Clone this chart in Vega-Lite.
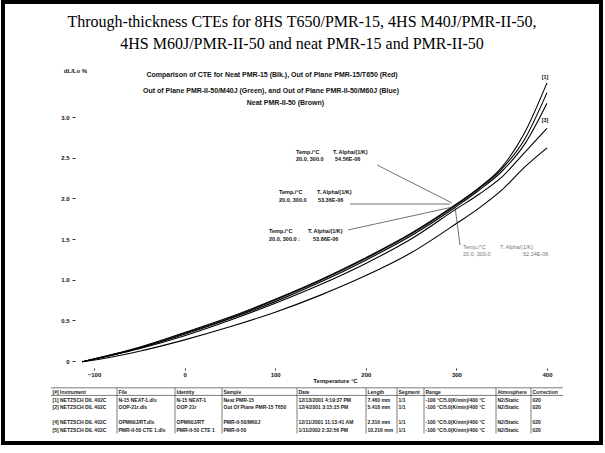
{
  "$schema": "https://vega.github.io/schema/vega-lite/v6.json",
  "width": 598,
  "height": 441,
  "autosize": {"type": "none"},
  "padding": {"left": 3, "top": 2, "right": 4, "bottom": 10},
  "background": "white",
  "title": {
    "text": ["Through-thickness CTEs for 8HS T650/PMR-15, 4HS M40J/PMR-II-50,", "4HS M60J/PMR-II-50 and neat PMR-15 and PMR-II-50"],
    "font": "Liberation Serif",
    "fontSize": 16,
    "fontWeight": "normal",
    "lineHeight": 22,
    "color": "black",
    "anchor": "middle",
    "offset": -50
  },
  "config": {
    "view": {"stroke": "black", "strokeWidth": 4},
    "font": "Liberation Sans",
    "text": {"font": "Liberation Sans"}
  },
  "datasets": {
    "curves": [
      {"series": "[1] Neat PMR-15", "t": -113, "v": -0.01}, {"series": "[1] Neat PMR-15", "t": -80, "v": 0.08}, {"series": "[1] Neat PMR-15", "t": -50, "v": 0.17}, {"series": "[1] Neat PMR-15", "t": 0, "v": 0.35}, {"series": "[1] Neat PMR-15", "t": 50, "v": 0.54}, {"series": "[1] Neat PMR-15", "t": 100, "v": 0.76}, {"series": "[1] Neat PMR-15", "t": 150, "v": 1.0}, {"series": "[1] Neat PMR-15", "t": 200, "v": 1.27}, {"series": "[1] Neat PMR-15", "t": 250, "v": 1.57}, {"series": "[1] Neat PMR-15", "t": 300, "v": 1.93}, {"series": "[1] Neat PMR-15", "t": 325, "v": 2.13}, {"series": "[1] Neat PMR-15", "t": 350, "v": 2.38}, {"series": "[1] Neat PMR-15", "t": 375, "v": 2.8}, {"series": "[1] Neat PMR-15", "t": 400, "v": 3.42},
      {"series": "[2] PMR-15/T650", "t": -113, "v": -0.01}, {"series": "[2] PMR-15/T650", "t": -80, "v": 0.08}, {"series": "[2] PMR-15/T650", "t": -50, "v": 0.16}, {"series": "[2] PMR-15/T650", "t": 0, "v": 0.34}, {"series": "[2] PMR-15/T650", "t": 50, "v": 0.53}, {"series": "[2] PMR-15/T650", "t": 100, "v": 0.75}, {"series": "[2] PMR-15/T650", "t": 150, "v": 0.99}, {"series": "[2] PMR-15/T650", "t": 200, "v": 1.26}, {"series": "[2] PMR-15/T650", "t": 250, "v": 1.56}, {"series": "[2] PMR-15/T650", "t": 300, "v": 1.92}, {"series": "[2] PMR-15/T650", "t": 325, "v": 2.12}, {"series": "[2] PMR-15/T650", "t": 350, "v": 2.36}, {"series": "[2] PMR-15/T650", "t": 375, "v": 2.72}, {"series": "[2] PMR-15/T650", "t": 400, "v": 3.3},
      {"series": "[4] PMR-II-50/M60J", "t": -113, "v": -0.01}, {"series": "[4] PMR-II-50/M60J", "t": -80, "v": 0.07}, {"series": "[4] PMR-II-50/M60J", "t": -50, "v": 0.16}, {"series": "[4] PMR-II-50/M60J", "t": 0, "v": 0.33}, {"series": "[4] PMR-II-50/M60J", "t": 50, "v": 0.52}, {"series": "[4] PMR-II-50/M60J", "t": 100, "v": 0.73}, {"series": "[4] PMR-II-50/M60J", "t": 150, "v": 0.97}, {"series": "[4] PMR-II-50/M60J", "t": 200, "v": 1.24}, {"series": "[4] PMR-II-50/M60J", "t": 250, "v": 1.54}, {"series": "[4] PMR-II-50/M60J", "t": 300, "v": 1.9}, {"series": "[4] PMR-II-50/M60J", "t": 325, "v": 2.1}, {"series": "[4] PMR-II-50/M60J", "t": 350, "v": 2.33}, {"series": "[4] PMR-II-50/M60J", "t": 375, "v": 2.66}, {"series": "[4] PMR-II-50/M60J", "t": 400, "v": 3.17},
      {"series": "[3] PMR-II-50/M40J", "t": -113, "v": -0.01}, {"series": "[3] PMR-II-50/M40J", "t": -80, "v": 0.07}, {"series": "[3] PMR-II-50/M40J", "t": -50, "v": 0.15}, {"series": "[3] PMR-II-50/M40J", "t": 0, "v": 0.31}, {"series": "[3] PMR-II-50/M40J", "t": 50, "v": 0.5}, {"series": "[3] PMR-II-50/M40J", "t": 100, "v": 0.71}, {"series": "[3] PMR-II-50/M40J", "t": 150, "v": 0.94}, {"series": "[3] PMR-II-50/M40J", "t": 200, "v": 1.2}, {"series": "[3] PMR-II-50/M40J", "t": 250, "v": 1.5}, {"series": "[3] PMR-II-50/M40J", "t": 300, "v": 1.87}, {"series": "[3] PMR-II-50/M40J", "t": 325, "v": 2.05}, {"series": "[3] PMR-II-50/M40J", "t": 350, "v": 2.26}, {"series": "[3] PMR-II-50/M40J", "t": 375, "v": 2.56}, {"series": "[3] PMR-II-50/M40J", "t": 400, "v": 2.86},
      {"series": "[5] Neat PMR-II-50", "t": -113, "v": -0.01}, {"series": "[5] Neat PMR-II-50", "t": -80, "v": 0.05}, {"series": "[5] Neat PMR-II-50", "t": -50, "v": 0.12}, {"series": "[5] Neat PMR-II-50", "t": 0, "v": 0.26}, {"series": "[5] Neat PMR-II-50", "t": 50, "v": 0.42}, {"series": "[5] Neat PMR-II-50", "t": 100, "v": 0.6}, {"series": "[5] Neat PMR-II-50", "t": 150, "v": 0.81}, {"series": "[5] Neat PMR-II-50", "t": 200, "v": 1.05}, {"series": "[5] Neat PMR-II-50", "t": 250, "v": 1.33}, {"series": "[5] Neat PMR-II-50", "t": 300, "v": 1.69}, {"series": "[5] Neat PMR-II-50", "t": 325, "v": 1.88}, {"series": "[5] Neat PMR-II-50", "t": 350, "v": 2.1}, {"series": "[5] Neat PMR-II-50", "t": 375, "v": 2.38}, {"series": "[5] Neat PMR-II-50", "t": 400, "v": 2.62}
    ],
    "header": [
      {"t": 96.5, "v": 3.517, "text": "Comparison of CTE for Neat PMR-15 (Blk.), Out of Plane PMR-15/T650 (Red)"},
      {"t": 95.4, "v": 3.32, "text": "Out of Plane PMR-II-50/M40J (Green), and Out of Plane PMR-II-50/M60J (Blue)"},
      {"t": 111.3, "v": 3.17, "text": "Neat PMR-II-50 (Brown)"}
    ],
    "ann": [
      {"t": 123.0, "v": 2.57, "text": "Temp./°C"}, {"t": 163.8, "v": 2.57, "text": "T. Alpha/(1/K)"},
      {"t": 123.0, "v": 2.484, "text": "20.0, 300.0"}, {"t": 166.0, "v": 2.484, "text": "54.56E-06"},
      {"t": 104.2, "v": 2.078, "text": "Temp./°C"}, {"t": 146.1, "v": 2.078, "text": "T. Alpha/(1/K)"},
      {"t": 104.2, "v": 1.98, "text": "20.0, 300.0"}, {"t": 147.2, "v": 1.98, "text": "53.36E-06"},
      {"t": 93.2, "v": 1.598, "text": "Temp./°C"}, {"t": 136.2, "v": 1.598, "text": "T. Alpha/(1/K)"},
      {"t": 93.2, "v": 1.5, "text": "20.0, 300.0 :"}, {"t": 141.7, "v": 1.5, "text": "53.86E-06"}
    ],
    "ann4": [
      {"t": 307.3, "v": 1.402, "text": "Temp./°C"}, {"t": 348.1, "v": 1.402, "text": "T. Alpha/(1/K)"},
      {"t": 307.3, "v": 1.316, "text": "20.0, 300.0"}, {"t": 373.5, "v": 1.316, "text": "52.24E-06"}
    ],
    "leaders": [
      {"t": 212.4, "v": 2.41, "t2": 295.1, "v2": 1.943},
      {"t": 182.6, "v": 1.93, "t2": 292.9, "v2": 1.93},
      {"t": 180.4, "v": 1.611, "t2": 296.2, "v2": 1.894},
      {"t": 298.5, "v": 1.894, "t2": 304.0, "v2": 1.426}
    ],
    "endlabels": [
      {"t": 397.8, "v": 3.49, "text": "[1]"},
      {"t": 397.8, "v": 2.96, "text": "[3]"}
    ],
    "table": [
      {"row": 0, "col": 0, "text": "[#] Instrument"}, {"row": 0, "col": 1, "text": "File"}, {"row": 0, "col": 2, "text": "Identity"}, {"row": 0, "col": 3, "text": "Sample"}, {"row": 0, "col": 4, "text": "Date"}, {"row": 0, "col": 5, "text": "Length"}, {"row": 0, "col": 6, "text": "Segment"}, {"row": 0, "col": 7, "text": "Range"}, {"row": 0, "col": 8, "text": "Atmosphere"}, {"row": 0, "col": 9, "text": "Correction"},
      {"row": 1, "col": 0, "text": "[1] NETZSCH DIL 402C"}, {"row": 1, "col": 1, "text": "N-15 NEAT-1.dls"}, {"row": 1, "col": 2, "text": "N-15 NEAT-1"}, {"row": 1, "col": 3, "text": "Neat PMR-15"}, {"row": 1, "col": 4, "text": "12/13/2001 4:19:37 PM"}, {"row": 1, "col": 5, "text": "7.460 mm"}, {"row": 1, "col": 6, "text": "1/1"}, {"row": 1, "col": 7, "text": "-100 °C/5.0(K/min)/400 °C"}, {"row": 1, "col": 8, "text": "N2/Static"}, {"row": 1, "col": 9, "text": "020"},
      {"row": 2, "col": 0, "text": "[2] NETZSCH DIL 402C"}, {"row": 2, "col": 1, "text": "OOP-21r.dls"}, {"row": 2, "col": 2, "text": "OOP 21r"}, {"row": 2, "col": 3, "text": "Out Of Plane PMR-15 T650"}, {"row": 2, "col": 4, "text": "12/4/2001 3:15:15 PM"}, {"row": 2, "col": 5, "text": "5.418 mm"}, {"row": 2, "col": 6, "text": "1/1"}, {"row": 2, "col": 7, "text": "-100 °C/5.0(K/min)/400 °C"}, {"row": 2, "col": 8, "text": "N2/Static"}, {"row": 2, "col": 9, "text": "020"},
      {"row": 4, "col": 0, "text": "[4] NETZSCH DIL 402C"}, {"row": 4, "col": 1, "text": "OPM60J/RT.dls"}, {"row": 4, "col": 2, "text": "OPM60J/RT"}, {"row": 4, "col": 3, "text": "PMR-II-50/M60J"}, {"row": 4, "col": 4, "text": "12/11/2001 11:13:41 AM"}, {"row": 4, "col": 5, "text": "2.316 mm"}, {"row": 4, "col": 6, "text": "1/1"}, {"row": 4, "col": 7, "text": "-100 °C/5.0(K/min)/400 °C"}, {"row": 4, "col": 8, "text": "N2/Static"}, {"row": 4, "col": 9, "text": "020"},
      {"row": 5, "col": 0, "text": "[5] NETZSCH DIL 402C"}, {"row": 5, "col": 1, "text": "PMR-II-50 CTE 1.dls"}, {"row": 5, "col": 2, "text": "PMR-II-50 CTE 1"}, {"row": 5, "col": 3, "text": "PMR-II-50"}, {"row": 5, "col": 4, "text": "1/11/2002 2:32:56 PM"}, {"row": 5, "col": 5, "text": "10.216 mm"}, {"row": 5, "col": 6, "text": "1/1"}, {"row": 5, "col": 7, "text": "-100 °C/5.0(K/min)/400 °C"}, {"row": 5, "col": 8, "text": "N2/Static"}, {"row": 5, "col": 9, "text": "020"}
    ],
    "colsep": [{"c": 1}, {"c": 2}, {"c": 3}, {"c": 4}, {"c": 5}, {"c": 6}, {"c": 7}, {"c": 8}, {"c": 9}],
    "rowsep": [{"r": -0.55}, {"r": 0.45}]
  },
  "layer": [
    {
      "layer": [
        {
          "data": {"name": "curves"},
          "mark": {"type": "line", "color": "black", "strokeWidth": 1.1, "interpolate": "monotone"},
          "encoding": {
            "x": {
              "field": "t", "type": "quantitative",
              "scale": {"domain": [-100, 400], "range": [91, 544], "nice": false, "zero": false},
              "axis": {
                "orient": "bottom", "offset": -75, "values": [-100, 0, 100, 200, 300, 400],
                "domain": false, "grid": false, "tickSize": 2, "tickColor": "#333",
                "labelFont": "Liberation Sans", "labelFontSize": 6, "labelFontWeight": "bold", "labelColor": "#111",
                "labelPadding": 1, "labelFlush": false,
                "title": "Temperature °C", "titleX": 332, "titleY": 12, "titleAlign": "center", "titleBaseline": "middle",
                "titleFont": "Liberation Sans", "titleFontSize": 6, "titleFontWeight": "bold", "titleColor": "#111"
              }
            },
            "y": {
              "field": "v", "type": "quantitative",
              "scale": {"domain": [0, 3], "range": [359, 115], "nice": false, "zero": false},
              "axis": {
                "orient": "left", "offset": -72, "values": [0, 0.5, 1, 1.5, 2, 2.5, 3],
                "domain": false, "grid": false, "tickSize": 3, "tickColor": "#333",
                "labelFont": "Liberation Sans", "labelFontSize": 6, "labelFontWeight": "bold", "labelColor": "#111",
                "labelPadding": 3, "labelFlush": false,
                "labelExpr": "datum.value == 0 ? '0' : format(datum.value, '.1f')",
                "title": "dL/Lo %", "titleAngle": 0, "titleX": 0, "titleY": 68, "titleAlign": "center", "titleBaseline": "middle",
                "titleFont": "Liberation Sans", "titleFontSize": 6, "titleFontWeight": "bold", "titleColor": "#111"
              }
            },
            "detail": {"field": "series", "type": "nominal"}
          }
        },
        {
          "mark": {"type": "rule", "color": "#555", "strokeWidth": 0.8, "strokeDash": [3, 2]},
          "encoding": {"x": {"datum": -121}, "y": {"datum": -0.086}, "y2": {"datum": 3.455}}
        },
        {
          "mark": {"type": "rule", "color": "#555", "strokeWidth": 0.8, "strokeDash": [3, 2]},
          "encoding": {"x": {"datum": -121}, "x2": {"datum": 406.6}, "y": {"datum": -0.086}}
        },
        {
          "data": {"name": "header"},
          "mark": {"type": "text", "fontSize": 7, "fontWeight": "bold", "align": "center", "baseline": "middle", "color": "#111"},
          "encoding": {"x": {"field": "t", "type": "quantitative"}, "y": {"field": "v", "type": "quantitative"}, "text": {"field": "text"}}
        },
        {
          "data": {"name": "ann"},
          "mark": {"type": "text", "fontSize": 5.5, "fontWeight": "bold", "align": "left", "baseline": "middle", "color": "#111"},
          "encoding": {"x": {"field": "t", "type": "quantitative"}, "y": {"field": "v", "type": "quantitative"}, "text": {"field": "text"}}
        },
        {
          "data": {"name": "ann4"},
          "mark": {"type": "text", "fontSize": 5.5, "align": "left", "baseline": "middle", "color": "#777"},
          "encoding": {"x": {"field": "t", "type": "quantitative"}, "y": {"field": "v", "type": "quantitative"}, "text": {"field": "text"}}
        },
        {
          "data": {"name": "leaders"},
          "mark": {"type": "rule", "color": "#333", "strokeWidth": 0.7},
          "encoding": {
            "x": {"field": "t", "type": "quantitative"}, "y": {"field": "v", "type": "quantitative"},
            "x2": {"field": "t2"}, "y2": {"field": "v2"}
          }
        },
        {
          "mark": {"type": "rule", "color": "#333", "strokeWidth": 0.8, "strokeDash": [2, 2]},
          "encoding": {"x": {"datum": 296.2}, "y": {"datum": 1.734}, "y2": {"datum": 0.873}}
        },
        {
          "data": {"name": "endlabels"},
          "mark": {"type": "text", "fontSize": 5.5, "fontWeight": "bold", "align": "center", "baseline": "middle", "color": "#111"},
          "encoding": {"x": {"field": "t", "type": "quantitative"}, "y": {"field": "v", "type": "quantitative"}, "text": {"field": "text"}}
        }
      ]
    },
    {
      "layer": [
        {
          "data": {"name": "table"},
          "mark": {"type": "text", "fontSize": 5, "fontWeight": "bold", "align": "left", "baseline": "middle", "dx": 1.5, "color": "#222"},
          "encoding": {
            "x": {"field": "col", "type": "quantitative", "axis": null,
                  "scale": {"domain": [0, 1, 2, 3, 4, 5, 6, 7, 8, 9, 10], "range": [48, 114, 172, 219, 294, 363, 394, 421, 493, 528, 560], "nice": false, "zero": false}},
            "y": {"field": "row", "type": "quantitative", "axis": null,
                  "scale": {"domain": [0, 5], "range": [390, 428], "nice": false, "zero": false}},
            "text": {"field": "text"}
          }
        },
        {
          "data": {"name": "colsep"},
          "mark": {"type": "rule", "color": "#444", "strokeWidth": 0.7},
          "encoding": {"x": {"field": "c", "type": "quantitative"}, "y": {"datum": -0.55}, "y2": {"datum": 5.45}}
        },
        {
          "data": {"name": "rowsep"},
          "mark": {"type": "rule", "color": "#444", "strokeWidth": 0.7},
          "encoding": {"x": {"datum": 0}, "x2": {"datum": 10}, "y": {"field": "r", "type": "quantitative"}}
        },
        {
          "mark": {"type": "rect", "filled": false, "stroke": "#444", "strokeWidth": 0.8},
          "encoding": {"x": {"datum": 0}, "x2": {"datum": 10}, "y": {"datum": -44.08}, "y2": {"datum": 5.45}}
        }
      ]
    }
  ],
  "resolve": {"scale": {"x": "independent", "y": "independent"}}
}
